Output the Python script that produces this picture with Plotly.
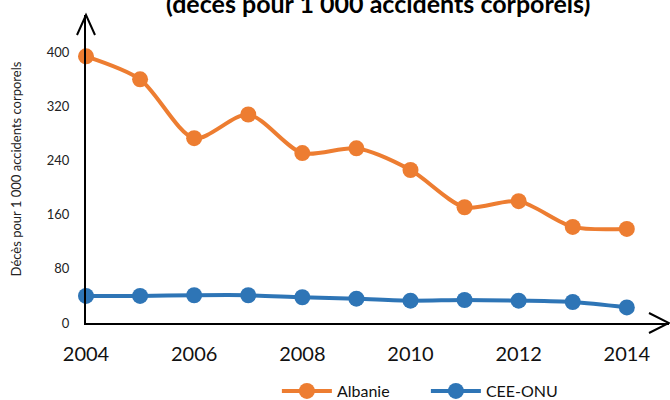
import plotly.graph_objects as go

years = [2004, 2005, 2006, 2007, 2008, 2009, 2010, 2011, 2012, 2013, 2014]
albanie = [394, 360, 273, 308, 251, 258, 226, 171, 180, 142, 139]
cee_onu = [40, 40, 41, 41, 38, 36, 33, 34, 33, 31, 23]

y_ticks = [0, 80, 160, 240, 320, 400]
x_ticks = [2004, 2006, 2008, 2010, 2012, 2014]

FONT = "Lato, Open Sans, sans-serif"

fig = go.Figure()

fig.add_trace(go.Scatter(
    x=years, y=albanie, name="Albanie", mode="lines+markers",
    line=dict(color="#ED7D31", width=4, shape="spline", smoothing=0.8),
    marker=dict(size=16, color="#ED7D31"),
    cliponaxis=False,
))
fig.add_trace(go.Scatter(
    x=years, y=cee_onu, name="CEE-ONU", mode="lines+markers",
    line=dict(color="#2E75B6", width=4, shape="spline", smoothing=0.8),
    marker=dict(size=16, color="#2E75B6"),
    cliponaxis=False,
))

fig.update_layout(
    width=670, height=400,
    margin=dict(l=86, r=1, t=15, b=77, autoexpand=False),
    plot_bgcolor="white", paper_bgcolor="white",
    font=dict(family=FONT, color="#222222"),
    showlegend=True,
    legend=dict(orientation="h", x=0.583, xanchor="center", y=-0.221, yanchor="middle",
                font=dict(size=16, color="#111111"), itemwidth=50, tracegroupgap=0,
                entrywidth=84),
)

fig.update_xaxes(
    range=[2004, 2014.78], tickvals=x_ticks, showgrid=False, zeroline=False,
    showline=True, linecolor="black", linewidth=2, automargin=False,
    tickfont=dict(size=20, color="#111111"), ticks="", ticklabelstandoff=12,
)
fig.update_yaxes(
    range=[0, 455], tickvals=y_ticks, showgrid=False, zeroline=False,
    showline=True, linecolor="black", linewidth=2, automargin=False,
    tickfont=dict(size=13, color="#222222"), ticks="", ticklabelstandoff=12,
    title=dict(text="Décès pour 1 000 accidents corporels", font=dict(size=13), standoff=22),
)

# axis arrowheads
fig.add_shape(type="path", xref="paper", yref="paper", xsizemode="pixel", ysizemode="pixel",
              xanchor=0, yanchor=1, path="M-9,-20 L0,0 L9,-20",
              line=dict(color="black", width=2))
fig.add_shape(type="path", xref="paper", yref="paper", xsizemode="pixel", ysizemode="pixel",
              xanchor=1, yanchor=0, path="M-20,10 L0,0 L-20,-10",
              line=dict(color="black", width=2))

# title (top line clipped by the frame, as in the source)
fig.add_annotation(
    text="<b>(décès pour 1 000 accidents corporels)</b>",
    xref="paper", yref="paper", x=0.5, y=0.985, xanchor="center", yanchor="bottom",
    showarrow=False, font=dict(size=25, color="black"),
)

fig.write_html("out.html", config={"displayModeBar": False},
               post_script="document.body.style.margin='0';")
